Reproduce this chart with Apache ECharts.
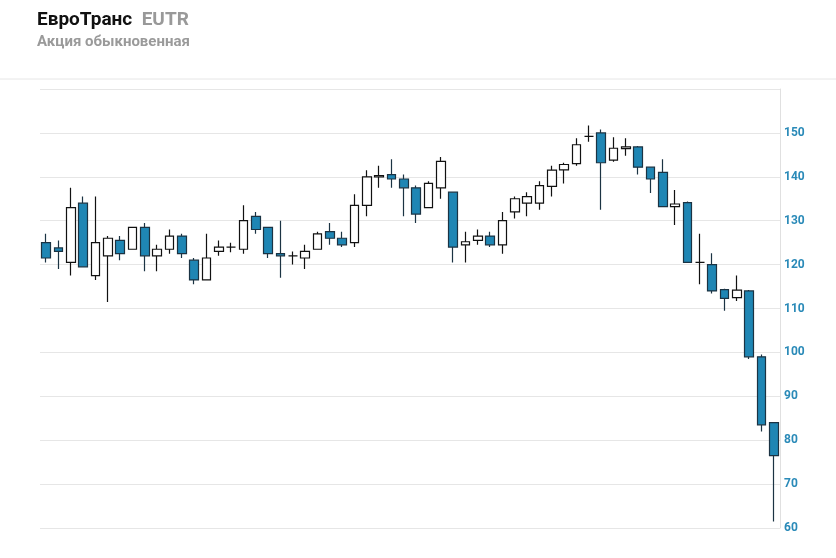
<!DOCTYPE html>
<html>
<head>
<meta charset="utf-8">
<script src="https://cdn.jsdelivr.net/npm/echarts@6/dist/echarts.min.js"></script>
<style>
html, body { margin: 0; padding: 0; background: #fff; }
#chart { width: 836px; height: 558px; }
</style>
</head>
<body>
<div id="chart"></div>
<script>
// [open, close, low, high]
var candles = [
    [125, 121.5, 120.5, 127], [123.8, 123, 119, 125.5], [120.5, 133, 117.5, 137.5], [134, 119.5, 119.5, 135.5],
    [117.5, 125, 116.5, 135.5], [122, 126, 111.5, 126.5], [125.5, 122.5, 121, 126.5], [123.5, 128.5, 123.5, 128.5],
    [128.5, 122, 118.5, 129.5], [122, 123.5, 118.5, 124.5], [123.5, 126.5, 122.5, 128], [126.5, 122.5, 121.5, 127],
    [121, 116.5, 115.5, 121.5], [116.5, 121.5, 116.5, 127], [123, 124, 122, 125.5], [124, 124, 122.8, 125],
    [123.5, 130, 122.5, 133.5], [131, 128, 127, 132], [128.5, 122.5, 121.5, 128.5], [122.5, 122, 117, 130],
    [122, 122, 120, 123], [121.5, 123, 119, 124.5], [123.5, 127, 123.5, 127.5], [127.5, 126, 124.5, 129.5],
    [126, 124.5, 124, 127.5], [125, 133.5, 124, 136], [133.5, 140, 131, 141.5], [140, 140.3, 137.5, 142.5],
    [140.5, 139.5, 137.5, 144], [139.5, 137.5, 131, 140.5], [137.5, 131.5, 129.5, 138], [133, 138.5, 133, 139],
    [137.5, 143.5, 135, 144.5], [136.5, 124, 120.5, 136.5], [124.5, 125.2, 120.5, 127.5], [125.5, 126.5, 124.5, 128],
    [126.5, 124.5, 124, 127.5], [124.5, 130, 122.5, 132], [132, 135, 130.5, 135.5], [134, 135.5, 131, 136.5],
    [134, 138, 132.5, 139], [137.8, 141.5, 135.5, 142.5], [141.6, 142.8, 138.5, 143.2], [143, 147.3, 142.5, 148.8],
    [149.2, 149.2, 148, 151.7], [150, 143.2, 132.5, 150.8], [143.8, 146.5, 143.4, 149], [146.4, 146.8, 144.8, 148.8],
    [146.8, 142.2, 140.5, 147], [142.2, 139.5, 136.3, 142.3], [141, 133.2, 133.2, 144], [133.2, 133.8, 129, 137],
    [134.1, 120.5, 120.5, 134.4], [120.5, 120.5, 115.5, 127], [120, 114, 113.4, 122.6], [114.3, 112.3, 109.5, 114.5],
    [112.5, 114.2, 111.7, 117.5], [114, 99, 98.5, 114.2], [99, 83.5, 82, 99.5], [84, 76.5, 61.5, 84]
];
var categories = candles.map(function (c, i) { return i + 1; });
var yTicks = [60, 70, 80, 90, 100, 110, 120, 130, 140, 150];

var chart = echarts.init(document.getElementById('chart'));
chart.setOption({
    animation: false,
    title: [
        {
            text: 'ЕвроТранс  {t|EUTR}',
            left: 32, top: 6,
            textStyle: {
                fontFamily: 'Roboto', fontSize: 19, fontWeight: 'bold', color: '#111',
                rich: { t: { fontFamily: 'Roboto', fontSize: 19, fontWeight: 'bold', color: '#999' } }
            }
        },
        {
            text: 'Акция обыкновенная',
            left: 32, top: 30,
            textStyle: { fontFamily: 'Roboto', fontSize: 15, fontWeight: 'bold', color: '#9a9a9a' }
        }
    ],
    graphic: [{
        type: 'line', shape: { x1: 0, y1: 79, x2: 836, y2: 79 },
        style: { stroke: '#e6e6e6', lineWidth: 1 }
    }],
    grid: { left: 40, right: 56, top: 89, bottom: 30 },
    xAxis: {
        type: 'category', data: categories,
        axisLine: { show: false }, axisTick: { show: false }, axisLabel: { show: false },
        splitLine: { show: false }
    },
    yAxis: {
        type: 'value', position: 'right', min: 60, max: 160, interval: 10,
        axisLine: { show: true, lineStyle: { color: '#e0e0e0' } },
        axisTick: { show: false },
        splitLine: { lineStyle: { color: '#e6e6e6' } },
        axisLabel: {
            color: '#2a8ab8', fontWeight: 'bold', fontSize: 12, fontFamily: 'Roboto', margin: 4,
            formatter: function (v) { return yTicks.indexOf(v) >= 0 ? v : ''; }
        }
    },
    series: [{
        type: 'candlestick',
        data: candles,
        barWidth: 9,
        itemStyle: {
            color: '#ffffff', borderColor: '#111',
            color0: '#1f86b4', borderColor0: '#1b3343',
            borderWidth: 1.2
        }
    }]
});
</script>
</body>
</html>
